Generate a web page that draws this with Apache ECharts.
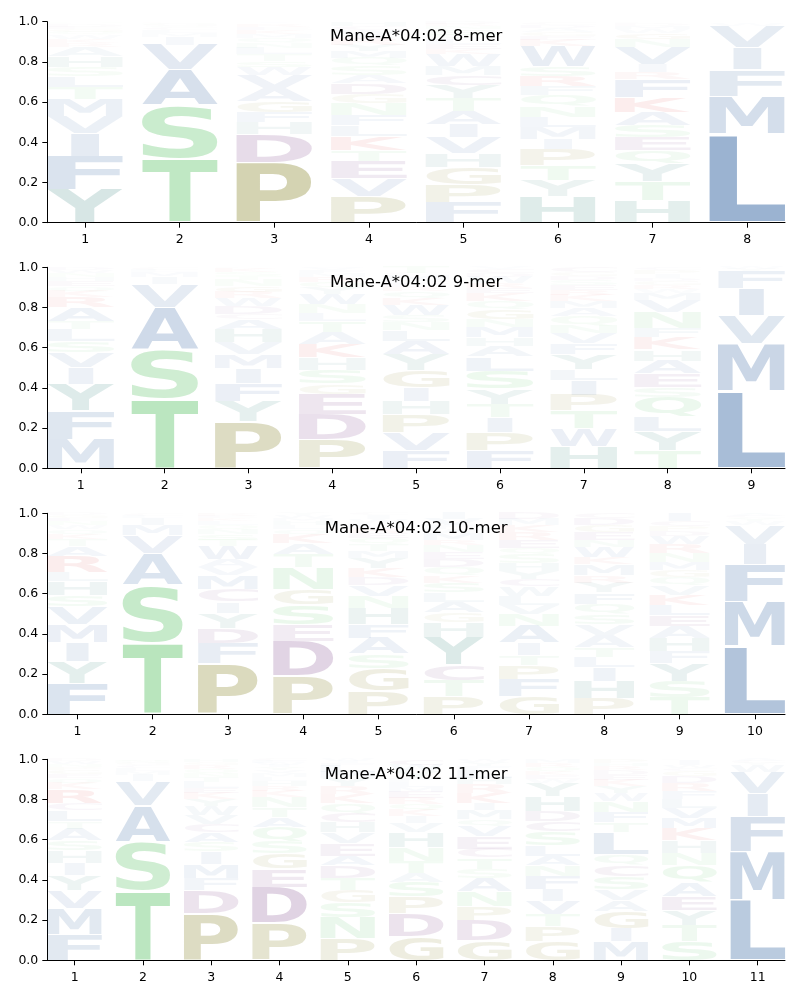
<!DOCTYPE html>
<html>
<head>
<meta charset="utf-8">
<script src="https://cdn.jsdelivr.net/npm/echarts@6/dist/echarts.min.js"></script>
<style>html,body{margin:0;padding:0;background:#fff}#chart{width:800px;height:1000px}</style>
</head>
<body>
<div id="chart"></div>
<script>
// ---------- DATA ----------
const titles = ['Mane-A*04:02 8-mer', 'Mane-A*04:02 9-mer', 'Mane-A*04:02 10-mer', 'Mane-A*04:02 11-mer'];

// letters per position, stacked bottom-to-top, with their frequencies
const letters8mer = ['YFIVMTLSHARKWQGEDCPN','TSAVIMLCQGNK','PDHFGAVWSTLNQMKERYI','PVETKLFNGDASQMYRIWCH','FPGHVIATYCMWKELQSNRD','HYTPIMLNQFRSWKEGADCV','HTYQESAKFRIVNGWMDCP','LMFIVWYC'];
const heights8mer = [
  [.165,.165,.115,.085,.085,.06,.055,.045,.055,.045,.02,.02,.02,.015,.015,.01,.01,.005,.005,.005],
  [.32,.265,.175,.125,.04,.02,.015,.01,.01,.01,.005,.005],
  [.30,.14,.06,.05,.055,.065,.065,.04,.03,.035,.03,.025,.025,.02,.02,.015,.015,.005,.005],
  [.13,.09,.085,.055,.07,.055,.05,.06,.045,.055,.04,.045,.04,.035,.03,.03,.025,.02,.02,.02],
  [.10,.09,.085,.07,.08,.065,.065,.065,.065,.05,.045,.06,.025,.025,.025,.02,.03,.015,.01,.01],
  [.13,.08,.075,.08,.05,.06,.05,.055,.055,.045,.05,.05,.10,.03,.02,.02,.02,.015,.01,.005],
  [.11,.095,.09,.065,.065,.06,.065,.075,.09,.035,.04,.085,.04,.03,.02,.015,.01,.005,.005],
  [.44,.19,.13,.11,.11,.01,.005,.005]
];

const letters9mer = ['MFYIVSLTARKQEHNWD','TSAVIMLCG','PYFIMVHACDWRGNTSKE','PDEGSHKATLNWYQRMFVI','FVPHIGYALNSWKQREDMCT','FPITYSLAHMNGQKERWDCV','HWTPILYFVNQAMKRESDGC','TYLQSEAHKFNVMWRGDIPC','LMVIFYW'];
const heights9mer = [
  [.145,.14,.135,.08,.075,.055,.06,.04,.07,.05,.03,.025,.025,.02,.02,.015,.015],
  [.345,.245,.21,.115,.035,.025,.01,.01,.005],
  [.235,.10,.09,.075,.065,.06,.065,.05,.025,.04,.04,.03,.03,.03,.02,.02,.02,.005],
  [.145,.125,.10,.05,.07,.06,.065,.06,.055,.04,.045,.05,.03,.03,.025,.02,.015,.01,.005],
  [.09,.09,.09,.065,.065,.085,.08,.065,.055,.04,.035,.05,.035,.035,.02,.02,.015,.025,.01,.03],
  [.09,.09,.075,.065,.075,.09,.07,.055,.04,.05,.04,.05,.04,.04,.025,.025,.03,.02,.02,.01],
  [.11,.09,.085,.08,.075,.055,.075,.05,.05,.04,.045,.04,.035,.03,.025,.025,.025,.02,.02,.025],
  [.09,.095,.075,.095,.05,.065,.065,.055,.06,.045,.08,.06,.035,.02,.02,.02,.015,.02,.02,.015],
  [.385,.235,.14,.135,.085,.01,.01]
];

const letters10mer = ['FYIMVSHLRATKQWNEGD','TSAVMILCG','PFDYICMVAWTSNQLKERH','PDESGNTAKQLHMWY','PGSAFHNVDKYMTQERLWIC','PTCYHGALSKQDENRMWFVI','GFPTIANVLWCYHSQERKMD','PHILTAVSQFYRMKWNEGDC','TSYFHAELKVQGMNRWDPCI','LMFIVWYCAT'];
const heights10mer = [
  [.155,.11,.095,.09,.085,.055,.07,.045,.08,.05,.035,.025,.025,.02,.02,.015,.015,.01],
  [.355,.29,.155,.09,.05,.035,.01,.01,.005],
  [.255,.10,.075,.075,.055,.06,.07,.04,.04,.065,.03,.03,.025,.02,.02,.015,.01,.01,.005],
  [.19,.175,.08,.10,.075,.11,.065,.055,.045,.025,.02,.02,.015,.015,.01],
  [.115,.115,.07,.08,.07,.08,.06,.05,.04,.045,.05,.035,.035,.03,.025,.025,.025,.02,.02,.01],
  [.09,.08,.075,.14,.075,.045,.055,.045,.05,.035,.04,.04,.035,.035,.025,.035,.02,.02,.03,.03],
  [.09,.085,.07,.05,.06,.085,.06,.045,.045,.045,.035,.04,.04,.045,.03,.04,.04,.035,.03,.03],
  [.08,.085,.07,.05,.05,.06,.055,.05,.05,.055,.05,.035,.055,.035,.05,.035,.04,.035,.035,.025],
  [.085,.08,.09,.06,.065,.06,.055,.05,.05,.045,.04,.035,.04,.045,.045,.04,.025,.025,.025,.04],
  [.34,.22,.185,.10,.095,.02,.015,.01,.01,.005]
];

const letters11mer = ['FMVYIHSATLCRKQEGPNWD','TSAVIMLCGNQ','PDFMISACVWYKELTNQRGH','PDEGSQATNKRHLMVYIWFC','PNSGTDAEVHCQKRYMLFIW','GDPSATNHVIKQREMLFYWC','GDPNASTCEVQMIKRHLFYW','GPTVIFNALSCDHYWEKQRM','MIGAVSCQLTFNWYKEDRHP','STYEAQNHKMVLFRDGCWIP','LMFIVWYCA'];
const heights11mer = [
  [.13,.13,.09,.075,.06,.06,.05,.06,.035,.055,.035,.07,.03,.025,.02,.02,.015,.015,.015,.01],
  [.345,.245,.18,.12,.03,.02,.015,.015,.01,.01,.01],
  [.235,.115,.06,.07,.06,.045,.05,.04,.045,.045,.035,.03,.025,.03,.025,.02,.02,.02,.015,.015],
  [.185,.18,.09,.075,.06,.07,.05,.05,.05,.03,.025,.025,.02,.02,.015,.015,.01,.01,.01,.01],
  [.11,.105,.075,.06,.06,.06,.05,.06,.055,.05,.045,.05,.045,.04,.04,.03,.03,.015,.01,.01],
  [.12,.115,.08,.075,.045,.06,.065,.075,.045,.035,.03,.03,.03,.03,.025,.025,.02,.035,.03,.03],
  [.10,.10,.07,.075,.065,.045,.055,.045,.06,.05,.035,.045,.035,.05,.045,.03,.04,.02,.02,.015],
  [.095,.075,.06,.065,.06,.065,.05,.05,.05,.07,.05,.05,.075,.065,.02,.02,.02,.02,.02,.02],
  [.095,.065,.085,.055,.055,.065,.055,.05,.11,.05,.05,.055,.04,.035,.03,.025,.025,.02,.015,.02],
  [.095,.08,.075,.07,.07,.085,.06,.06,.06,.05,.05,.045,.04,.04,.035,.025,.015,.015,.025,.005],
  [.30,.24,.175,.115,.105,.035,.01,.01,.01]
];

const panelLetters = [letters8mer, letters9mer, letters10mer, letters11mer];
const panelHeights = [heights8mer, heights9mer, heights10mer, heights11mer];

// amino-acid colour classes
const classOf = {A:'hydrophobic',V:'hydrophobic',L:'hydrophobic',I:'hydrophobic',M:'hydrophobic',F:'hydrophobic',W:'hydrophobic',
  S:'polar',T:'polar',N:'polar',Q:'polar', P:'special',G:'special', D:'acidic',E:'acidic',C:'acidic',
  K:'basic',R:'basic', Y:'aromatic',H:'aromatic'};
const classRGB = {hydrophobic:[28,82,150], polar:[58,183,71], special:[112,108,0], acidic:[85,10,100], basic:[210,20,20], aromatic:[10,105,95]};

// ---------- LAYOUT ----------
const gridTops = [21.7, 267.3, 513.3, 759.3];
const gridLeft = 47.3, gridWidth = 737.7, gridHeight = 201;
const FONT_FAMILY = 'DejaVu Sans';

// measure glyph boxes
const mctx = document.createElement('canvas').getContext('2d');
mctx.font = 'bold 100px "DejaVu Sans"';
mctx.textBaseline = 'middle';
mctx.textAlign = 'left';
const AA = 'ACDEFGHIKLMNPQRSTVWY';
const glyph = {};
for (const c of AA) {
  const m = mctx.measureText(c);
  glyph[c] = {l: m.actualBoundingBoxLeft, r: m.actualBoundingBoxRight, a: m.actualBoundingBoxAscent, d: m.actualBoundingBoxDescent};
}
const refW = (glyph.I.l + glyph.I.r) / 0.37;

function renderItem(params, api) {
  const pos = api.value(0), y0 = api.value(1), y1 = api.value(2), ci = api.value(3), h = api.value(4);
  const c = AA[ci];
  const g = glyph[c];
  const gw = g.l + g.r, gh = g.a + g.d;
  const frac = Math.min(1, gw / refW);
  const half = 0.4 * frac;
  const pad = (y1 - y0) * 0.02;
  const tl = api.coord([pos - half, y1 - pad]);
  const br = api.coord([pos + half, y0 + pad]);
  const w = br[0] - tl[0], hh = br[1] - tl[1];
  if (hh <= 0.1 || w <= 0) return null;
  const rgb = classRGB[classOf[c]];
  const alpha = Math.min(1, h);
  return {
    type: 'text', x: tl[0], y: tl[1], scaleX: w / gw, scaleY: hh / gh, silent: true,
    style: {
      text: c, x: g.l, y: g.a, fontSize: 100, fontWeight: 'bold', fontFamily: FONT_FAMILY,
      fill: 'rgba(' + rgb[0] + ',' + rgb[1] + ',' + rgb[2] + ',' + alpha + ')',
      align: 'left', verticalAlign: 'middle', textAlign: 'left', textVerticalAlign: 'middle'
    }
  };
}

const grids = [], xAxes = [], yAxes = [], series = [], titleOpts = [];
panelLetters.forEach((letters, i) => {
  const heights = panelHeights[i];
  const n = letters.length;
  const positions = letters.map((_, k) => k + 1);
  grids.push({left: gridLeft, top: gridTops[i], width: gridWidth, height: gridHeight});
  xAxes.push({
    type: 'value', gridIndex: i, min: 0.6, max: n + 0.4,
    axisLine: {show: true, lineStyle: {color: '#000', width: 1}},
    axisTick: {show: true, customValues: positions, length: 5, lineStyle: {color: '#000', width: 1}},
    axisLabel: {show: true, customValues: positions, formatter: v => String(Math.round(v)), color: '#000', fontSize: 12.5, fontFamily: FONT_FAMILY, margin: 11},
    splitLine: {show: false}
  });
  yAxes.push({
    type: 'value', gridIndex: i, min: 0, max: 1, interval: 0.2,
    axisLine: {show: true, lineStyle: {color: '#000', width: 1}},
    axisTick: {show: true, length: 5, lineStyle: {color: '#000', width: 1}},
    axisLabel: {formatter: v => v.toFixed(1), color: '#000', fontSize: 12.5, fontFamily: FONT_FAMILY, margin: 9},
    splitLine: {show: false}
  });
  const data = [];
  letters.forEach((str, k) => {
    let base = 0;
    const hs = heights[k];
    for (let j = 0; j < str.length; j++) {
      const hv = hs[j];
      data.push([k + 1, base, base + hv, AA.indexOf(str[j]), hv]);
      base += hv;
    }
  });
  series.push({
    type: 'custom', xAxisIndex: i, yAxisIndex: i, renderItem: renderItem,
    encode: {x: 0, y: [1, 2]}, data: data, clip: false, silent: true
  });
  titleOpts.push({
    text: titles[i], left: gridLeft + gridWidth / 2, top: gridTops[i] + 6.5, textAlign: 'center', padding: 0,
    textStyle: {fontSize: 16.5, fontWeight: 'normal', color: '#000', fontFamily: FONT_FAMILY}
  });
});

const chart = echarts.init(document.getElementById('chart'), null, {renderer: 'canvas'});
chart.setOption({
  backgroundColor: '#fff',
  animation: false,
  title: titleOpts,
  grid: grids,
  xAxis: xAxes,
  yAxis: yAxes,
  series: series
});
</script>
</body>
</html>
